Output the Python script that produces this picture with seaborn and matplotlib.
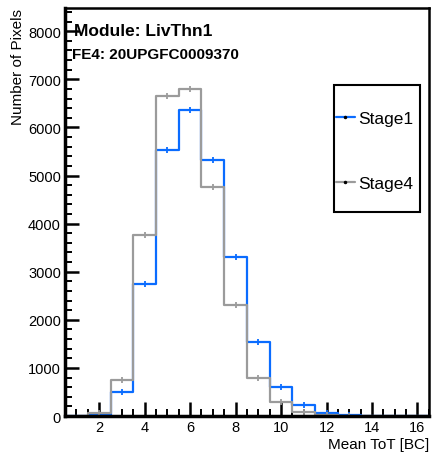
import matplotlib
matplotlib.use("Agg")
import matplotlib.pyplot as plt
from matplotlib import ticker
from matplotlib.lines import Line2D
from matplotlib.patches import Rectangle
import pandas as pd
import seaborn as sns

# bin centres (Mean ToT, 1 BC wide bins)
tot_bins = list(range(1, 17))
stage1_counts = [0, 25, 500, 2740, 5540, 6360, 5320, 3300, 1530, 600, 230, 70, 12, 0, 0, 0]
stage4_counts = [0, 70, 750, 3770, 6650, 6790, 4760, 2300, 780, 285, 80, 18, 5, 0, 0, 0]
series_names = ["Stage1", "Stage4"]
series_colors = ["#0a6cff", "#9b9b9b"]

df = pd.DataFrame({
    "tot": tot_bins * 2,
    "count": stage1_counts + stage4_counts,
    "stage": [series_names[0]] * len(tot_bins) + [series_names[1]] * len(tot_bins),
})

sns.set_style("white")
plt.rcParams["font.family"] = ["Liberation Sans", "DejaVu Sans"]
plt.rcParams["text.color"] = "black"
plt.rcParams["axes.labelcolor"] = "black"
plt.rcParams["xtick.color"] = "black"
plt.rcParams["ytick.color"] = "black"

fig = plt.figure(figsize=(4.34, 4.56), dpi=100)
ax = fig.add_axes([0.150, 0.0855, 0.838, 0.8945])

for name, col in zip(series_names, series_colors):
    sub = df[df.stage == name]
    sns.histplot(data=sub, x="tot", weights="count", binwidth=1, binrange=(0.5, 16.5),
                 element="step", fill=False, color=col, linewidth=1.6, ax=ax)
    nz = sub[sub["count"] > 0]
    ax.plot(nz.tot, nz["count"], ls="none", marker="|", ms=5, mew=1.3, color=col)

ax.set_xlim(0.5, 16.5)
ax.set_ylim(0, 8480)
ax.set_xlabel("Mean ToT [BC]", fontsize=11, loc="right", labelpad=2)
ax.set_ylabel("Number of Pixels", fontsize=11, loc="top", labelpad=2)

ax.xaxis.set_major_locator(ticker.MultipleLocator(2))
ax.xaxis.set_minor_locator(ticker.MultipleLocator(0.5))
ax.yaxis.set_major_locator(ticker.MultipleLocator(1000))
ax.yaxis.set_minor_locator(ticker.MultipleLocator(200))
ax.tick_params(which="both", bottom=True, left=True, top=False, right=False)
ax.tick_params(which="major", direction="in", length=10, width=1.8, labelsize=10.5, pad=3)
ax.tick_params(which="minor", direction="in", length=5, width=1.4)

for side in ["left", "bottom"]:
    ax.spines[side].set_linewidth(2.5)
    ax.spines[side].set_color("black")
for side in ["top", "right"]:
    ax.spines[side].set_linewidth(1.8)
    ax.spines[side].set_color("black")

ax.text(0.025, 0.946, "Module: LivThn1", transform=ax.transAxes,
        fontsize=12.5, fontweight="bold", va="center", ha="left")
ax.text(0.019, 0.887, "FE4: 20UPGFC0009370", transform=ax.transAxes,
        fontsize=11, fontweight="bold", va="center", ha="left")

# legend box drawn separately so it can be tall and narrow like ROOT's TLegend
fig.patches.append(Rectangle((0.770, 0.533), 0.198, 0.278, transform=fig.transFigure,
                             fill=True, facecolor="white", edgecolor="black", lw=1.5,
                             zorder=5))
handles = [Line2D([], [], color=c, lw=1.6, marker=".", ms=3, mfc="black", mec="black")
           for c in series_colors]
leg = fig.legend(handles, series_names, loc="upper left",
                 bbox_to_anchor=(0.774, 0.755),
                 fontsize=12.5, frameon=False,
                 handlelength=1.1, handletextpad=0.2, labelspacing=2.9,
                 borderpad=0, borderaxespad=0)
leg.set_zorder(6)

fig.savefig("out.png", dpi=100)
